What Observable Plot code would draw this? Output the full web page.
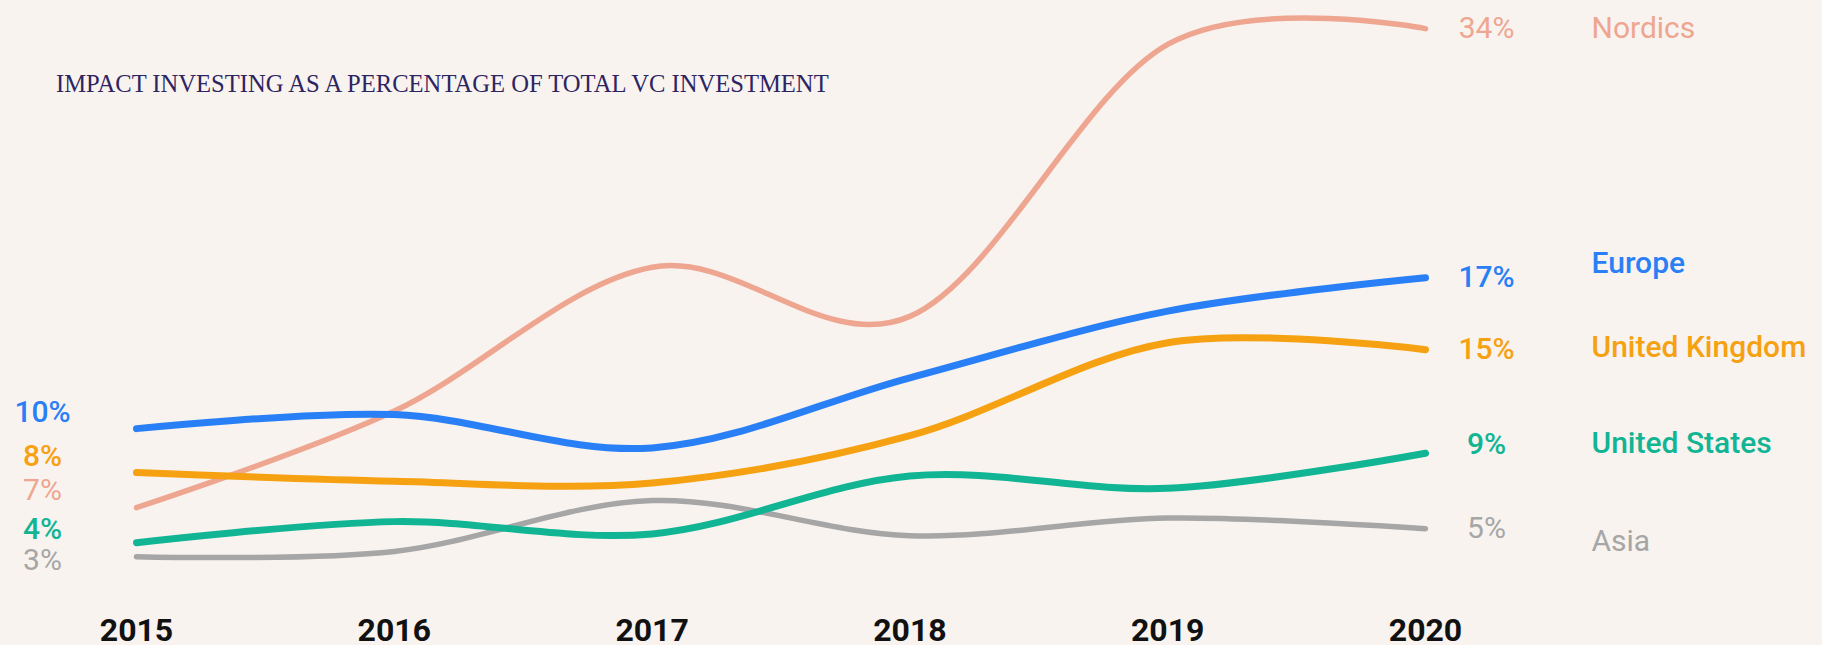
<!DOCTYPE html>
<html>
<head>
<meta charset="utf-8">
<script src="https://cdn.jsdelivr.net/npm/d3@7"></script>
<script src="https://cdn.jsdelivr.net/npm/@observablehq/plot@0.6"></script>
<style>
html, body { margin: 0; padding: 0; background: #f8f3ef; }
#wrap { position: relative; width: 1822px; height: 645px; overflow: hidden; background: #f8f3ef; }
#title { position: absolute; left: 56px; top: 72.3px; font-family: "Liberation Serif", "Times New Roman", serif; font-size: 24.6px; line-height: 24.6px; color: #2d2462; white-space: nowrap; }
#chart { position: absolute; left: 0; top: 0; }
</style>
</head>
<body>
<div id="wrap"><div id="chart"></div><div id="title"></div></div>
<script>
// ---- data ----
const years = [2015, 2016, 2017, 2018, 2019, 2020];
const regions = ["Nordics", "Europe", "United Kingdom", "United States", "Asia"];
const nordics       = [5.9, 11.4, 19.6, 16.8, 32.3, 33.2];
const europe        = [10.4, 11.2, 9.3, 13.3, 17.1, 19.0];
const unitedKingdom = [7.9, 7.4, 7.3, 10.0, 15.3, 14.9];
const unitedStates  = [3.9, 5.1, 4.4, 7.7, 7.0, 9.0];
const asia          = [3.1, 3.4, 6.3, 4.3, 5.3, 4.7];
const startLabels = ["7%", "10%", "8%", "4%", "3%"];
const endLabels   = ["34%", "17%", "15%", "9%", "5%"];
const titleText = "IMPACT INVESTING AS A PERCENTAGE OF TOTAL VC INVESTMENT";

// ---- styles ----
const seriesValues = [nordics, europe, unitedKingdom, unitedStates, asia];
const colors  = ["#eea691", "#2980f6", "#f6a111", "#11b594", "#a6a6a6"];
const widths  = [5.5, 7, 7, 7, 5.5];
const weights = [400, 500, 500, 500, 400];
const startDy = [-17, -16, -16, -13, 4];
const endDy   = [0, 0, 0, -9, 0];
const nameDy  = [0, -14, -2, -10, 13];
const drawOrder = [4, 0, 2, 1, 3];

document.getElementById("title").textContent = titleText;

const marks = [];
for (const i of drawOrder) {
  const rows = years.map((year, j) => ({year, value: seriesValues[i][j], region: regions[i]}));
  marks.push(Plot.line(rows, {x: "year", y: "value", stroke: colors[i], strokeWidth: widths[i], curve: "cardinal", tension: 0}));
}
regions.forEach((region, i) => {
  const first = {year: years[0], value: seriesValues[i][0]};
  const last = {year: years[years.length - 1], value: seriesValues[i][years.length - 1]};
  marks.push(Plot.text([first], {x: "year", y: "value", text: () => startLabels[i], dx: -94, dy: startDy[i], textAnchor: "middle", fill: colors[i], fontSize: 30, fontWeight: weights[i]}));
  marks.push(Plot.text([last], {x: "year", y: "value", text: () => endLabels[i], dx: 61, dy: endDy[i], textAnchor: "middle", fill: colors[i], fontSize: 30, fontWeight: weights[i]}));
  marks.push(Plot.text([last], {x: "year", y: "value", text: () => region, dx: 166, dy: nameDy[i], textAnchor: "start", fill: colors[i], fontSize: 30, fontWeight: weights[i]}));
});
marks.push(Plot.axisX(years, {label: null, tickSize: 0, tickPadding: 7, tickFormat: d => String(d), fontSize: 32, fontWeight: 700, fill: "#111"}));

const chart = Plot.plot({
  width: 1822,
  height: 645,
  marginTop: 14,
  marginBottom: 34.4,
  marginLeft: 136,
  marginRight: 397,
  style: {background: "transparent", fontFamily: "Roboto, 'Noto Sans', sans-serif", overflow: "visible"},
  x: {type: "linear", domain: [2015, 2020], range: [136, 1425], axis: null, label: null},
  y: {domain: [0, 34], range: [610.6, 14.1], axis: null},
  marks
});
document.getElementById("chart").appendChild(chart);
</script>
</body>
</html>
